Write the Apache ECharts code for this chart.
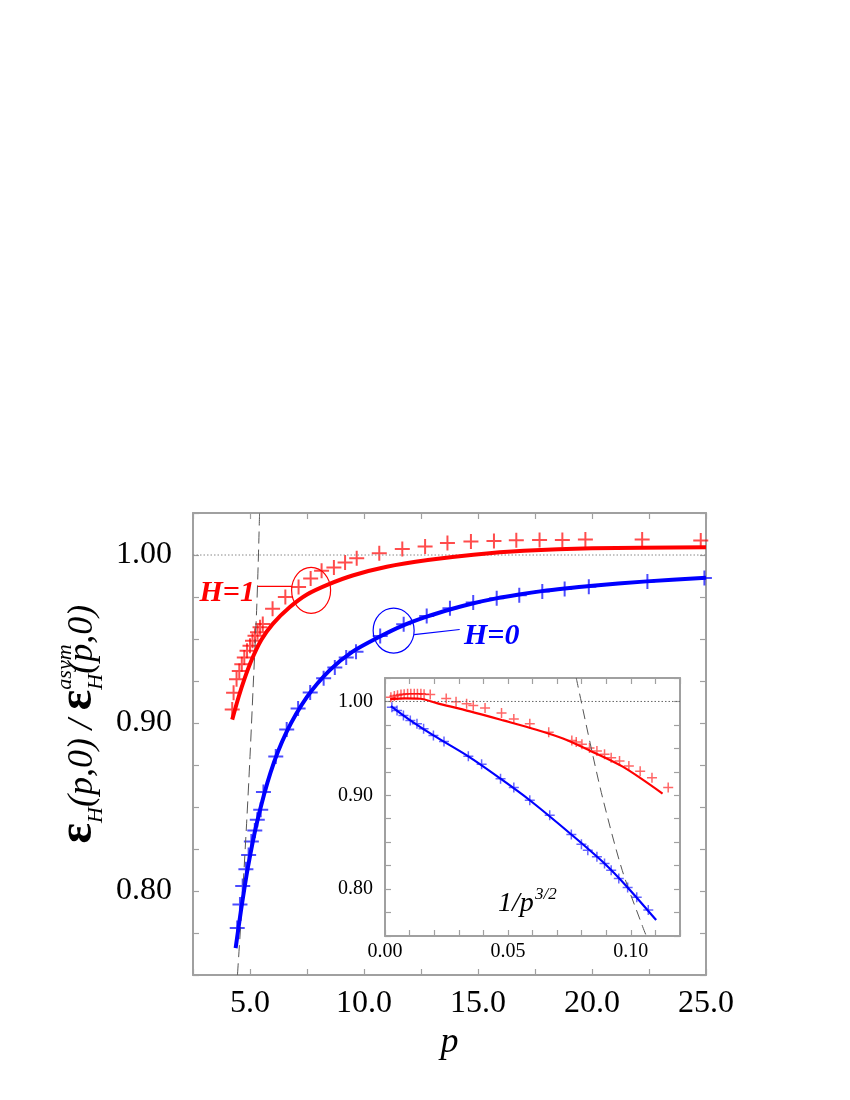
<!DOCTYPE html>
<html>
<head>
<meta charset="utf-8">
<script src="https://cdn.jsdelivr.net/npm/echarts@6/dist/echarts.min.js"></script>
<style>
  html, body { margin: 0; padding: 0; background: #fff; }
  #chart { width: 850px; height: 1100px; }
</style>
</head>
<body>
<div id="chart"></div>
<script>
// ---- main panel: ratio vs p ----
const h1Points = [
  [4.22, 0.908], [4.28, 0.918], [4.41, 0.926], [4.53, 0.931], [4.64, 0.935],
  [4.75, 0.939], [4.87, 0.943], [5.0, 0.946], [5.11, 0.949], [5.22, 0.952],
  [5.33, 0.954], [5.44, 0.957], [5.56, 0.959], [5.99, 0.968], [6.55, 0.975],
  [7.13, 0.981], [7.66, 0.986], [8.14, 0.9906], [8.68, 0.9926], [9.17, 0.9956],
  [9.68, 0.998], [10.67, 1.001], [11.68, 1.0036], [12.68, 1.005], [13.66, 1.0072],
  [14.69, 1.008], [15.7, 1.0084], [16.68, 1.0088], [17.7, 1.009], [18.7, 1.009],
  [19.71, 1.0092], [22.2, 1.0092], [24.77, 1.0086]
]
const h1Curve = [
  [4.22, 0.902], [4.5, 0.9155], [4.75, 0.926], [5.07, 0.9375], [5.5, 0.9495],
  [6.0, 0.959], [6.75, 0.969], [7.5, 0.9765], [8.44, 0.9825], [9.5, 0.9878],
  [11.0, 0.993], [12.8, 0.997], [14.8, 1.0002], [17.0, 1.0025], [20.0, 1.004],
  [25.0, 1.0046]
]
const h0Points = [
  [4.44, 0.778], [4.56, 0.792], [4.68, 0.803], [4.82, 0.813], [4.94, 0.8215],
  [5.06, 0.8295], [5.21, 0.836], [5.32, 0.8424], [5.47, 0.8484], [5.59, 0.859],
  [6.13, 0.88], [6.61, 0.8962], [7.11, 0.9086], [7.64, 0.9181], [8.23, 0.9267],
  [8.72, 0.9331], [9.22, 0.939], [9.65, 0.9424], [10.71, 0.9518], [11.74, 0.9588],
  [12.75, 0.9637], [13.77, 0.9683], [14.79, 0.9717], [15.82, 0.9743], [16.81, 0.9761],
  [17.82, 0.9783], [18.8, 0.9797], [19.86, 0.9811], [22.43, 0.9843], [24.93, 0.9863]
]
const h0Curve = [
  [4.37, 0.766], [4.6, 0.788], [4.9, 0.8135], [5.3, 0.8405], [5.9, 0.8705],
  [6.6, 0.8945], [7.5, 0.9155], [8.5, 0.9315], [9.5, 0.9425], [10.7, 0.9515],
  [11.7, 0.958], [12.75, 0.9633], [13.8, 0.9677], [14.8, 0.9713], [15.8, 0.9742],
  [16.8, 0.9765], [17.8, 0.9785], [18.8, 0.9801], [19.9, 0.9816], [22.4, 0.9843],
  [25.0, 0.9865]
]
const mainDashed = [
  [4.45, 0.75], [4.64, 0.79], [4.85, 0.84], [5.0, 0.88], [5.15, 0.925],
  [5.29, 0.967], [5.36, 0.995], [5.42, 1.025]
]
const mainXLabels = [5, 10, 15, 20, 25]
const mainYLabels = [0.8, 0.9, 1.0]

// ---- inset: ratio vs 1/p^{3/2} ----
const insetH1Points = [
  [0.0024, 1.0046], [0.0038, 1.0057], [0.0051, 1.0067], [0.0065, 1.0074], [0.0078, 1.0078],
  [0.0092, 1.0081], [0.0105, 1.0081], [0.0119, 1.0081], [0.0132, 1.0081], [0.0146, 1.0081],
  [0.0159, 1.0078], [0.0184, 1.0074], [0.0249, 1.0032], [0.0289, 0.9996], [0.0332, 0.9975],
  [0.0359, 0.9957], [0.0407, 0.9929], [0.0474, 0.9876], [0.0524, 0.9812], [0.0589, 0.9763],
  [0.0666, 0.9673], [0.076, 0.9585], [0.0778, 0.9567], [0.0801, 0.9543], [0.0832, 0.9503],
  [0.0862, 0.9471], [0.0893, 0.9436], [0.092, 0.9401], [0.0954, 0.9365], [0.0992, 0.9312],
  [0.1038, 0.9255], [0.1086, 0.9188], [0.1152, 0.9082]
]
const insetH1Curve = [
  [0.0021, 1.0025], [0.008, 1.0032], [0.0143, 1.0029], [0.0211, 0.9982], [0.0346, 0.9894],
  [0.0481, 0.9798], [0.0616, 0.9699], [0.0724, 0.9605], [0.0832, 0.9478], [0.0967, 0.9305],
  [0.1129, 0.9018]
]
const insetH0Points = [
  [0.0028, 0.9939], [0.0049, 0.9904], [0.0075, 0.9851], [0.0103, 0.9798], [0.013, 0.9763],
  [0.0157, 0.9709], [0.0197, 0.9638], [0.024, 0.9574], [0.0339, 0.9415], [0.0393, 0.933],
  [0.047, 0.9177], [0.0524, 0.9082], [0.0589, 0.8947], [0.067, 0.8787], [0.0758, 0.8582],
  [0.0799, 0.8479], [0.0825, 0.8415], [0.0862, 0.8344], [0.0893, 0.8273], [0.092, 0.8202],
  [0.0951, 0.8114], [0.0987, 0.8018], [0.1024, 0.7912], [0.1071, 0.7777]
]
const insetH0Curve = [
  [0.0024, 0.995], [0.0103, 0.9798], [0.0197, 0.9638], [0.0339, 0.9415], [0.047, 0.9177],
  [0.0589, 0.8947], [0.0758, 0.8582], [0.0893, 0.8273], [0.0987, 0.8018], [0.1103, 0.767]
]
const insetDashed = [
  [0.0778, 1.025], [0.0835, 0.955], [0.0886, 0.8965], [0.0965, 0.82], [0.1048, 0.76], [0.1063, 0.75]
]
const insetXLabels = [0, 0.05, 0.1]

const RED = '#ff0000'
const BLUE = '#0000ff'
const SERIF = '"Liberation Serif", "DejaVu Serif", serif'
const AXIS_GREY = '#a0a0a0'
const CROSS = 'path://M5,0L5,10M0,5L10,5'

const near = (v, list) => list.some((t) => Math.abs(v - t) < 1e-6)

const chart = echarts.init(document.getElementById('chart'), null, { renderer: 'canvas' })

// box axis: bottom/left carry labels, top/right only ticks
const boxAxis = (grid, min, max, interval, labels, digits, fontSize, margin, pos) => ({
  type: 'value', gridIndex: grid, position: pos, min, max, interval,
  axisLine: { show: true, onZero: false, lineStyle: { color: AXIS_GREY, width: 2 } },
  axisTick: { show: true, inside: true, length: 6, lineStyle: { color: AXIS_GREY, width: 1.2 } },
  axisLabel: {
    show: pos === 'bottom' || pos === 'left', interval: 0, margin,
    fontFamily: SERIF, fontSize, color: '#000',
    formatter: (v) => (near(v, labels) ? v.toFixed(digits) : '')
  },
  splitLine: { show: false }
})

const lineSeries = (axis, data, color, width, extra) => Object.assign({
  type: 'line', xAxisIndex: axis, yAxisIndex: axis, data, symbol: 'none',
  smooth: 0.3, lineStyle: { color, width }
}, extra || {})

const crossSeries = (axis, data, color, size, width, opacity) => ({
  type: 'scatter', xAxisIndex: axis, yAxisIndex: axis, data, symbol: CROSS, symbolSize: size,
  itemStyle: { color: 'none', borderColor: color, borderWidth: width, opacity }
})

const option = {
  animation: false,
  backgroundColor: '#fff',
  grid: [
    { left: 193, top: 513, width: 513, height: 462 },
    { left: 385, top: 678, width: 295, height: 258, show: true, backgroundColor: '#fff', borderWidth: 0 }
  ],
  xAxis: [
    Object.assign(boxAxis(0, 2.5, 25, 2.5, mainXLabels, 1, 32, 13, 'bottom'), {
      name: 'p', nameLocation: 'middle', nameGap: 50,
      nameTextStyle: { fontFamily: SERIF, fontStyle: 'italic', fontSize: 36, color: '#000' }
    }),
    boxAxis(0, 2.5, 25, 2.5, mainXLabels, 1, 32, 13, 'top'),
    boxAxis(1, 0, 0.12, 0.01, insetXLabels, 2, 20, 6, 'bottom'),
    boxAxis(1, 0, 0.12, 0.01, insetXLabels, 2, 20, 6, 'top')
  ],
  yAxis: [
    boxAxis(0, 0.75, 1.025, 0.025, mainYLabels, 2, 32, 21, 'left'),
    boxAxis(0, 0.75, 1.025, 0.025, mainYLabels, 2, 32, 21, 'right'),
    boxAxis(1, 0.75, 1.025, 0.025, mainYLabels, 2, 20, 12, 'left'),
    boxAxis(1, 0.75, 1.025, 0.025, mainYLabels, 2, 20, 12, 'right')
  ],
  series: [
    lineSeries(0, [[2.5, 1], [25, 1]], '#888', 1, { smooth: false, lineStyle: { color: '#888', width: 1, type: [1.5, 2] } }),
    lineSeries(0, mainDashed, '#555', 1, { lineStyle: { color: '#555', width: 1, type: [12, 6] } }),
    lineSeries(0, h1Curve, RED, 4),
    lineSeries(0, h0Curve, BLUE, 4),
    crossSeries(0, h1Points, RED, 15, 2, 0.7),
    crossSeries(0, h0Points, BLUE, 15, 2, 0.7),

    lineSeries(2, [[0, 1], [0.12, 1]], '#666', 1, { smooth: false, lineStyle: { color: '#666', width: 1, type: [1.5, 2] } }),
    lineSeries(2, insetDashed, '#555', 1, { lineStyle: { color: '#555', width: 1, type: [10, 6] } }),
    lineSeries(2, insetH1Curve, RED, 2.2),
    lineSeries(2, insetH0Curve, BLUE, 2.2),
    crossSeries(2, insetH1Points, RED, 10, 1.5, 0.6),
    crossSeries(2, insetH0Points, BLUE, 10, 1.5, 0.6)
  ]
}
chart.setOption(option)

// ---- annotations placed from data coordinates ----
const px = (p, v) => chart.convertToPixel({ xAxisIndex: 0, yAxisIndex: 0 }, [p, v])
const ell1 = px(7.68, 0.979)
const ell0 = px(11.3, 0.955)
const lab1 = px(4.0, 0.9775)
const lab0 = px(15.6, 0.9515)

// rotated y title, laid out piece by piece (baseline offsets in local y)
const ctx = document.createElement('canvas').getContext('2d')
const measure = (txt, font) => { ctx.font = font; return ctx.measureText(txt).width }
const fBig = 'bold 48px ' + SERIF
const fMain = 'italic 36px ' + SERIF
const fSub = 'italic 22px ' + SERIF
const pieces = []
let cx = 0
const put = (txt, font, size, base, advance) => {
  pieces.push({ type: 'text', x: cx, y: base - 0.34 * size,
    style: { text: txt, font, fill: '#000', verticalAlign: 'middle' } })
  if (advance !== false) cx += measure(txt, font)
}
put('ε', fBig, 48, 0)
const epsW = cx
put('H', fSub, 22, 9)
put('(p,0) / ', fMain, 36, 0)
put('ε', fBig, 48, 0)
put('asym', fSub, 22, -22, false)
put('H', fSub, 22, 9)
put('(p,0)', fMain, 36, 0)

chart.setOption({
  graphic: [
    { type: 'group', x: 95, y: 823 + epsW, rotation: Math.PI / 2, children: pieces },
    { type: 'ellipse', shape: { cx: ell1[0], cy: ell1[1], rx: 19.5, ry: 23 },
      style: { fill: 'none', stroke: RED, lineWidth: 1.2 } },
    { type: 'line', shape: { x1: lab1[0] + 30, y1: ell1[1] - 4, x2: ell1[0] - 19.5, y2: ell1[1] - 4 },
      style: { stroke: RED, lineWidth: 1.2 } },
    { type: 'text', x: lab1[0], y: lab1[1], style: { text: 'H=1', font: 'bold italic 30px ' + SERIF, fill: RED, align: 'center', verticalAlign: 'middle' } },
    { type: 'ellipse', shape: { cx: ell0[0], cy: ell0[1], rx: 20.5, ry: 22.5 },
      style: { fill: 'none', stroke: BLUE, lineWidth: 1.2 } },
    { type: 'line', shape: { x1: ell0[0] + 20.5, y1: ell0[1] + 4, x2: lab0[0] - 32, y2: lab0[1] - 7 },
      style: { stroke: BLUE, lineWidth: 1.2 } },
    { type: 'text', x: lab0[0], y: lab0[1], style: { text: 'H=0', font: 'bold italic 30px ' + SERIF, fill: BLUE, align: 'center', verticalAlign: 'middle' } },
    { type: 'text', x: 498, y: 904, z: 50, style: { text: '1/p', font: 'italic 28px ' + SERIF, fill: '#000', verticalAlign: 'middle' } },
    { type: 'text', x: 535, y: 895, z: 50, style: { text: '3/2', font: 'italic 17px ' + SERIF, fill: '#000', verticalAlign: 'middle' } }
  ]
})
</script>
</body>
</html>
